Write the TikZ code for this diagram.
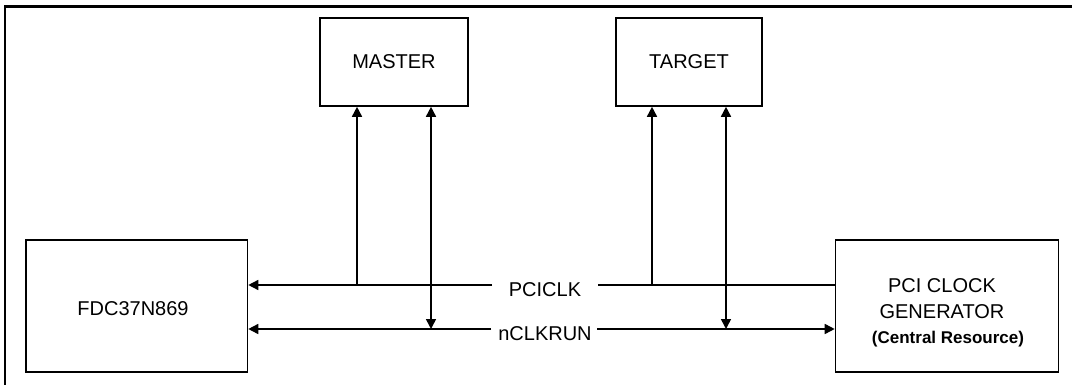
\documentclass[tikz,border=0pt]{standalone}
\usepackage{fontspec}
\setmainfont{Liberation Sans}
\usetikzlibrary{arrows.meta}
\begin{document}
\begin{tikzpicture}[x=1pt,y=-1pt,
  box/.style={draw,line width=1.6pt,inner sep=0pt},
  lbl/.style={font=\fontsize{20}{26}\selectfont,inner sep=0pt},
  sig/.style={line width=1.6pt},
  tip/.style={-{Triangle[length=10pt,width=10pt]}},
  both/.style={{Triangle[length=10pt,width=10pt]}-{Triangle[length=10pt,width=10pt]}}]
\useasboundingbox (0,0) rectangle (1072,385);
% outer frame (cropped)
\draw[line width=2.4pt] (4.7,400) -- (4.7,6.7) -- (1080,6.7);
% boxes
\node[box,minimum width=148pt,minimum height=88pt] (master) at (394,62) {};
\node[box,minimum width=146pt,minimum height=88pt] (target) at (689,62) {};
\node[box,minimum width=221.5pt,minimum height=132pt] (fdc) at (136.75,306) {};
\node[box,minimum width=223pt,minimum height=132pt] (pcg) at (947,306) {};
% box texts
\node[lbl] (tmaster) at (master.center) {MASTER};
\node[lbl] (ttarget) at (target.center) {TARGET};
\node[lbl] (tfdc) at (133,309) {FDC37N869};
\node[lbl,align=center] (tpcg) at (942,299) {PCI CLOCK\\GENERATOR};
\node[inner sep=0pt,font=\fontsize{17}{20}\selectfont\bfseries] (tcr) at (948,339) {(Central Resource)};
% signal labels
\node[lbl] (lpciclk) at (545,290) {PCICLK};
\node[lbl] (lclkrun) at (545,334) {nCLKRUN};
% coordinates
\coordinate (pcR) at (598,285);
\coordinate (pcL) at (492,285);
\coordinate (crR) at (597,329);
\coordinate (crL) at (491,329);
\coordinate (jm1) at (357,285);
\coordinate (jm2) at (431,329);
\coordinate (jt1) at (652,285);
\coordinate (jt2) at (726,329);
% PCICLK
\draw[sig] (pcg.west |- pcR) -- (pcR);
\draw[sig,tip] (pcL) -- (fdc.east |- pcL);
% nCLKRUN
\draw[sig,tip] (crL) -- (fdc.east |- crL);
\draw[sig,tip] (crR) -- (pcg.west |- crR);
% verticals
\draw[sig,tip] (jm1) -- (master.south -| jm1);
\draw[sig,both] (master.south -| jm2) -- (jm2);
\draw[sig,tip] (jt1) -- (target.south -| jt1);
\draw[sig,both] (target.south -| jt2) -- (jt2);
\end{tikzpicture}
\end{document}
